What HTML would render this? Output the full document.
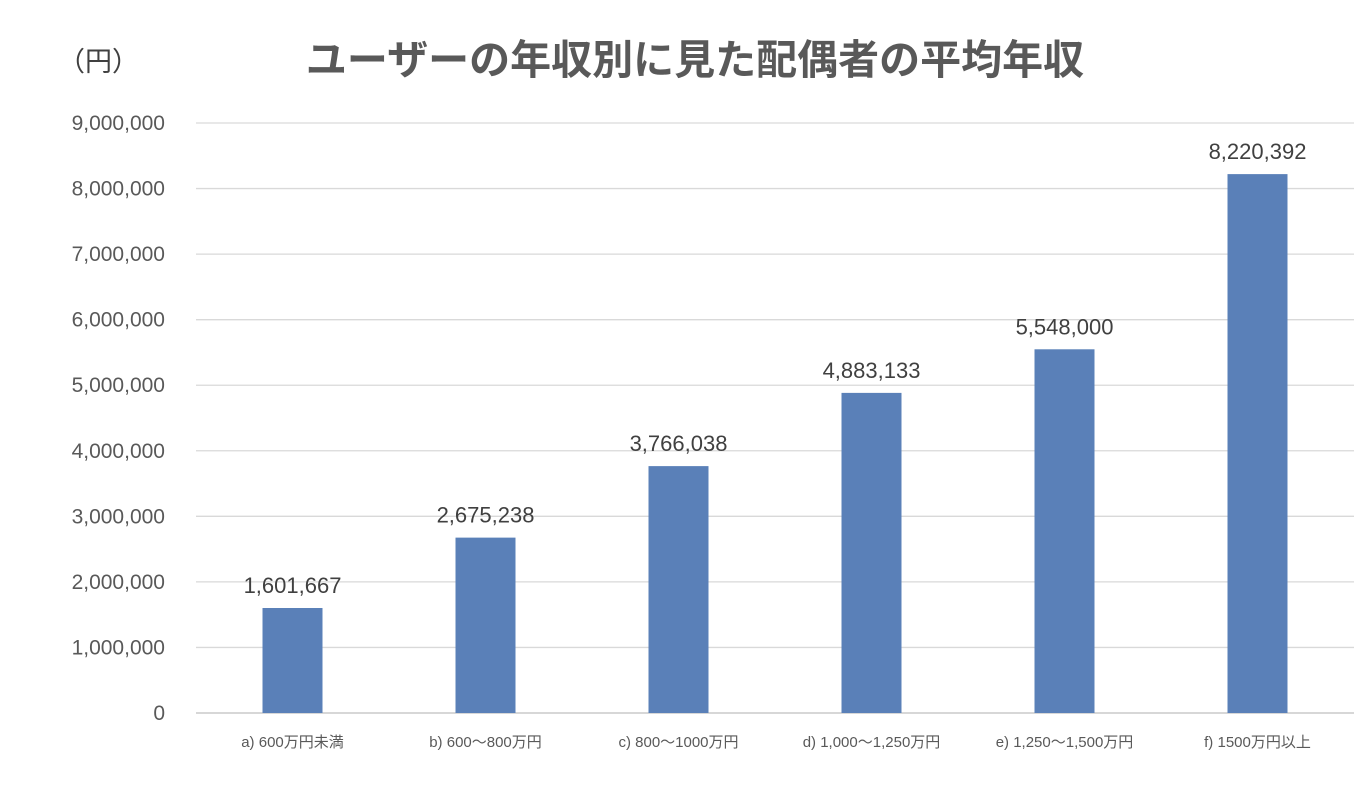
<!DOCTYPE html>
<html><head><meta charset="utf-8"><style>
body{margin:0;background:#fff;}
svg{display:block;font-family:"Liberation Sans","Noto Sans CJK JP",sans-serif;}
</style></head><body>
<svg id="chart" width="1370" height="792">
<text x="58" y="71" font-size="27" fill="#404040">（円）</text>
<text x="695" y="74" font-size="41" font-weight="bold" fill="#595959" text-anchor="middle">ユーザーの年収別に見た配偶者の平均年収</text>
<g id="grid"></g><g id="bars"></g>
</svg>
<script>
const categories=["a) 600万円未満","b) 600〜800万円","c) 800〜1000万円","d) 1,000〜1,250万円","e) 1,250〜1,500万円","f) 1500万円以上"];
const values=[1601667,2675238,3766038,4883133,5548000,8220392];
const ticks=[0,1000000,2000000,3000000,4000000,5000000,6000000,7000000,8000000,9000000];
const NS="http://www.w3.org/2000/svg";
const x0=196,x1=1354,y0=713,y9=123,yMax=9000000;
const y=v=>y0-(v/yMax)*(y0-y9);
const band=(x1-x0)/categories.length;
const xc=i=>x0+band*(i+0.5);
const fmt=v=>v.toLocaleString("en-US");
function mk(tag,attrs,parent){const e=document.createElementNS(NS,tag);for(const k in attrs)e.setAttribute(k,attrs[k]);parent.appendChild(e);return e;}
const grid=document.getElementById("grid"),bars=document.getElementById("bars");
ticks.forEach(t=>{
  const l=mk("line",{x1:x0,x2:x1,y1:y(t),y2:y(t),stroke:t===0?"#bfbfbf":"#d9d9d9","stroke-width":1.3},grid);
  
  
  const tx=mk("text",{x:165,y:y(t)+7,"font-size":21,fill:"#595959","text-anchor":"end"},grid);
  tx.textContent=fmt(t);
  
  
});
values.forEach((v,i)=>{
  const r=mk("rect",{x:xc(i)-30,y:y(v),width:60,height:y0-y(v),fill:"#5a80b8"},bars);
  
  
  const lb=mk("text",{x:xc(i),y:y(v)-15,"font-size":22,fill:"#404040","text-anchor":"middle"},bars);
  lb.textContent=fmt(v);
  
  
  const c=mk("text",{x:xc(i),y:747,"font-size":15,fill:"#595959","text-anchor":"middle"},bars);
  c.textContent=categories[i];
  
  
});
</script>
</body></html>
